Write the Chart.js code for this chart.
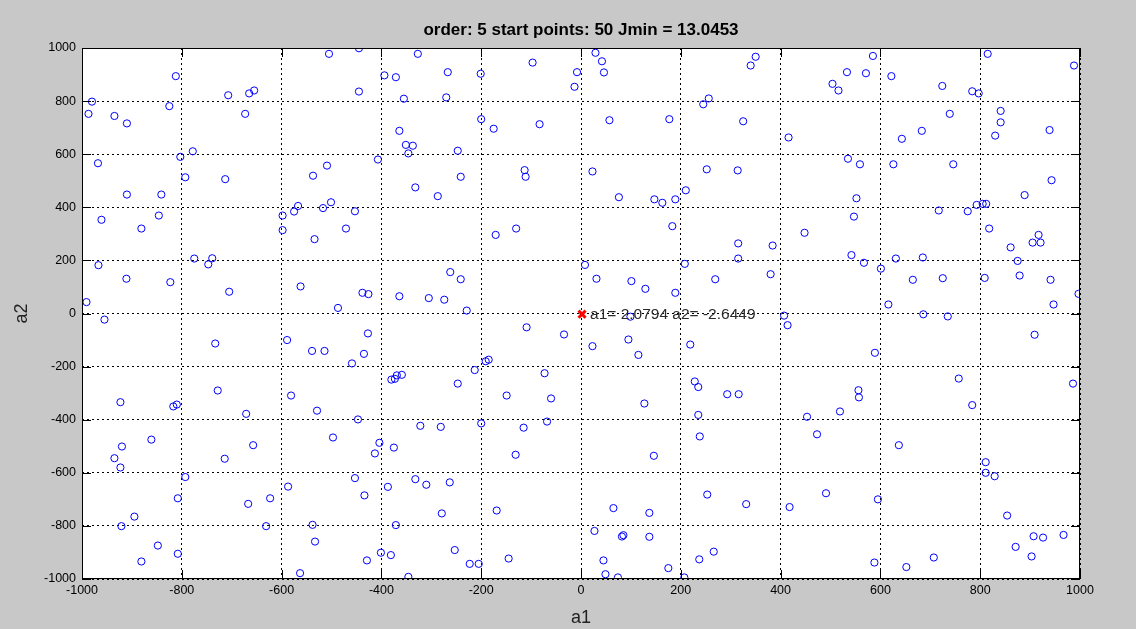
<!DOCTYPE html>
<html>
<head>
<meta charset="utf-8">
<title>order 5 start points</title>
<script src="https://cdn.jsdelivr.net/npm/chart.js@4.4.1/dist/chart.umd.min.js"></script>
<style>
  html, body { margin: 0; padding: 0; background: #c8c8c8; }
  canvas { display: block; }
</style>
</head>
<body>
<canvas id="chart" width="1136" height="629"></canvas>
<script>
// start points of the search (a1, a2)
const startA1 = [
  -980, -987, -935, -910, -812, -825, -707, -673, -665, -655, -505, -968, -803, -778, -793, -713, -537, -509, -910, -841, -961, -846, -598, -575, -567, -517, -501,
  -445, -327, -97, -8, -13, -394, -371, -267, -201, -445, -355, -270, -200, -175, -83, -364, -351, -337, -346, -247, -407, -113, -111, -241, -332, -287, -453,
  29, 42, 46, 350, 340, 256, 245, 57, 177, 325, 416, 23, 76, 147, 163, 189, 210, 252, 314,
  585, 815, 988, 533, 571, 622, 504, 516, 724, 784, 797, 739, 841, 841, 830, 683, 643, 939, 535, 559, 626, 746, 943, 889, 552, 547, 717, 775, 793, 805, 812,
  -881, -598, -534, -967, -911, -823, -775, -739, -747, -705, -562, -991, -955, -733, -589, -539, -514, -728, -581,
  -471, -171, -130, -262, -241, -438, -426, -364, -305, -274, -229, -487, -427, -109, -34, -435, -459, -213, -191, -185, -380, -373, -369, -359, -247, -73, -149, -60,
  183, 448, 315, 384, 315, 8, 208, 380, 31, 101, 269, 129, 189, 99, 407, 414, 23, 95, 115, 219, 228, 235, 293, 316,
  818, 917, 905, 921, 861, 542, 567, 601, 631, 685, 875, 665, 725, 809, 879, 941, 997, 947, 616, 686, 735, 909, 589, 757, 986, 556, 557,
  -923, -817, -810, -671, -529, -861, -920, -935, -923, -714, -657, -793, -808, -587, -667, -623, -895, -921, -631, -538, -533, -848, -808, -881, -563,
  -447, -322, -281, -200, -115, -68, -497, -404, -375, -413, -131, -453, -387, -332, -310, -263, -434, -279, -169, -371, -253, -401, -381, -429, -223, -205, -145, -346,
  127, 235, 238, 453, 473, 146, 253, 331, 418, 491, 65, 137, 27, 82, 85, 137, 45, 49, 74, 175, 207, 237, 266,
  519, 784, 637, 811, 811, 829, 595, 854, 907, 926, 967, 871, 903, 588, 652, 707
];
const startA2 = [
  798, 752, 744, 716, 894, 781, 822, 752, 829, 840, 978, 566, 590, 611, 513, 506, 519, 557, 448, 448, 353, 369, 369, 384, 405, 397, 419,
  999, 978, 945, 909, 854, 897, 890, 909, 903, 836, 809, 814, 732, 696, 713, 688, 635, 632, 603, 613, 580, 540, 515, 515, 475, 442, 385,
  982, 950, 908, 967, 934, 810, 788, 728, 732, 724, 663, 535, 438, 430, 417, 430, 464, 543, 539,
  970, 978, 934, 909, 905, 894, 865, 840, 857, 837, 829, 752, 763, 720, 670, 688, 658, 691, 583, 562, 562, 562, 502, 446, 434, 365, 388, 385, 409, 413, 413,
  320, 314, 280, 182, 131, 118, 207, 208, 185, 82, 102, 43, -23, -113, -100, -141, -141, -290, -309,
  320, 296, 320, 156, 129, 78, 73, 65, 58, 52, 11, 21, -75, -52, -79, -152, -188, -213, -180, -174, -249, -246, -233, -231, -264, -225, -309, -320,
  329, 304, 264, 256, 207, 183, 187, 148, 131, 122, 129, 93, 78, -12, -8, -44, -123, -98, -156, -117, -256, -277, -304, -304,
  320, 296, 267, 267, 249, 220, 191, 169, 207, 211, 198, 127, 133, 134, 143, 127, 74, 34, 34, -3, -11, -80, -148, -245, -264, -289, -316,
  -334, -350, -343, -378, -366, -475, -501, -545, -580, -547, -496, -616, -696, -652, -717, -696, -765, -801, -801, -796, -859, -874, -905, -934, -978,
  -399, -423, -427, -414, -430, -407, -467, -487, -505, -527, -532, -620, -653, -624, -645, -636, -685, -753, -742, -797, -891, -901, -910, -930, -943, -943, -923, -992,
  -339, -382, -463, -389, -455, -536, -682, -718, -729, -677, -733, -751, -819, -840, -835, -841, -930, -982, -994, -959, -994, -926, -897,
  -369, -345, -496, -560, -600, -613, -700, -761, -839, -844, -834, -879, -915, -938, -955, -919
];

// best point found
const bestA1 = [2.0794];
const bestA2 = [-2.6449];

const axisTicks = [-1000, -800, -600, -400, -200, 0, 200, 400, 600, 800, 1000];
const titleText = 'order: 5 start points: 50 Jmin = 13.0453';

const FONT = "'Liberation Sans', Arial, sans-serif";

const toPoints = (xs, ys) => xs.map((x, i) => ({ x: x, y: ys[i] }));

// gray figure, white axes, box with inward ticks, title over the axes,
// text next to the best point
const axesBox = {
  id: 'axesBox',
  beforeDraw(chart) {
    const { ctx, chartArea: a } = chart;
    ctx.save();
    ctx.fillStyle = '#c8c8c8';
    ctx.fillRect(0, 0, chart.width, chart.height);
    ctx.fillStyle = '#ffffff';
    ctx.fillRect(a.left, a.top, a.right - a.left, a.bottom - a.top);
    ctx.restore();
  },
  afterDraw(chart) {
    const { ctx, chartArea: a, scales } = chart;
    const len = 9;
    ctx.save();
    ctx.strokeStyle = '#000';
    ctx.lineWidth = 1;
    ctx.beginPath();
    scales.x.ticks.forEach(t => {
      const px = Math.round(scales.x.getPixelForValue(t.value)) + 0.5;
      ctx.moveTo(px, a.bottom); ctx.lineTo(px, a.bottom - len);
      ctx.moveTo(px, a.top); ctx.lineTo(px, a.top + len);
    });
    scales.y.ticks.forEach(t => {
      const py = Math.round(scales.y.getPixelForValue(t.value)) + 0.5;
      ctx.moveTo(a.left, py); ctx.lineTo(a.left + len, py);
      ctx.moveTo(a.right, py); ctx.lineTo(a.right - len, py);
    });
    ctx.stroke();
    ctx.strokeRect(a.left + 0.5, a.top + 0.5, a.right - a.left - 1, a.bottom - a.top - 1);

    ctx.fillStyle = '#000';
    ctx.font = 'bold 17px ' + FONT;
    ctx.textAlign = 'center';
    ctx.textBaseline = 'middle';
    ctx.fillText(titleText, (a.left + a.right) / 2, 30);

    const px = scales.x.getPixelForValue(bestA1[0]);
    const py = scales.y.getPixelForValue(bestA2[0]);
    ctx.fillStyle = '#2a2a2a';
    ctx.font = '15.5px ' + FONT;
    ctx.textAlign = 'left';
    ctx.fillText('a1= ' + bestA1[0] + ' a2= ' + bestA2[0], px + 8, py + 1);
    ctx.restore();
  }
};

const plainTick = v => String(v);

new Chart(document.getElementById('chart'), {
  type: 'scatter',
  data: {
    datasets: [
      {
        label: 'best',
        data: toPoints(bestA1, bestA2),
        pointStyle: 'crossRot',
        pointRadius: 5,
        borderColor: '#ff0000',
        backgroundColor: '#ff0000',
        borderWidth: 3,
        order: 0
      },
      {
        label: 'start points',
        data: toPoints(startA1, startA2),
        pointStyle: 'circle',
        pointRadius: 3.6,
        borderColor: '#0000ff',
        backgroundColor: 'rgba(0,0,0,0)',
        borderWidth: 1,
        order: 1
      }
    ]
  },
  options: {
    responsive: false,
    animation: false,
    events: [],
    layout: { padding: { left: 0, right: 56, top: 48, bottom: 0 } },
    plugins: {
      legend: { display: false },
      tooltip: { enabled: false },
      title: { display: false }
    },
    scales: {
      x: {
        type: 'linear',
        min: -1000,
        max: 1000,
        afterBuildTicks: s => { s.ticks = axisTicks.map(v => ({ value: v })); },
        afterFit: s => { s.height = 50; },
        grid: { color: '#000', lineWidth: 1, drawTicks: false },
        border: { display: false, dash: [2, 3] },
        ticks: { color: '#000', padding: 4, font: { family: FONT, size: 12.5 }, callback: plainTick },
        title: {
          display: true,
          text: 'a1',
          color: '#222',
          font: { family: FONT, size: 18 },
          padding: { top: 0, bottom: 0 }
        }
      },
      y: {
        type: 'linear',
        min: -1000,
        max: 1000,
        afterBuildTicks: s => { s.ticks = axisTicks.map(v => ({ value: v })); },
        afterFit: s => { s.width = 82; },
        grid: { color: '#000', lineWidth: 1, drawTicks: false },
        border: { display: false, dash: [2, 3] },
        ticks: { color: '#000', padding: 6, font: { family: FONT, size: 12.5 }, callback: plainTick },
        title: {
          display: true,
          text: 'a2',
          color: '#222',
          font: { family: FONT, size: 18 },
          padding: { top: 11, bottom: 0 }
        }
      }
    }
  },
  plugins: [axesBox]
});
</script>
</body>
</html>
